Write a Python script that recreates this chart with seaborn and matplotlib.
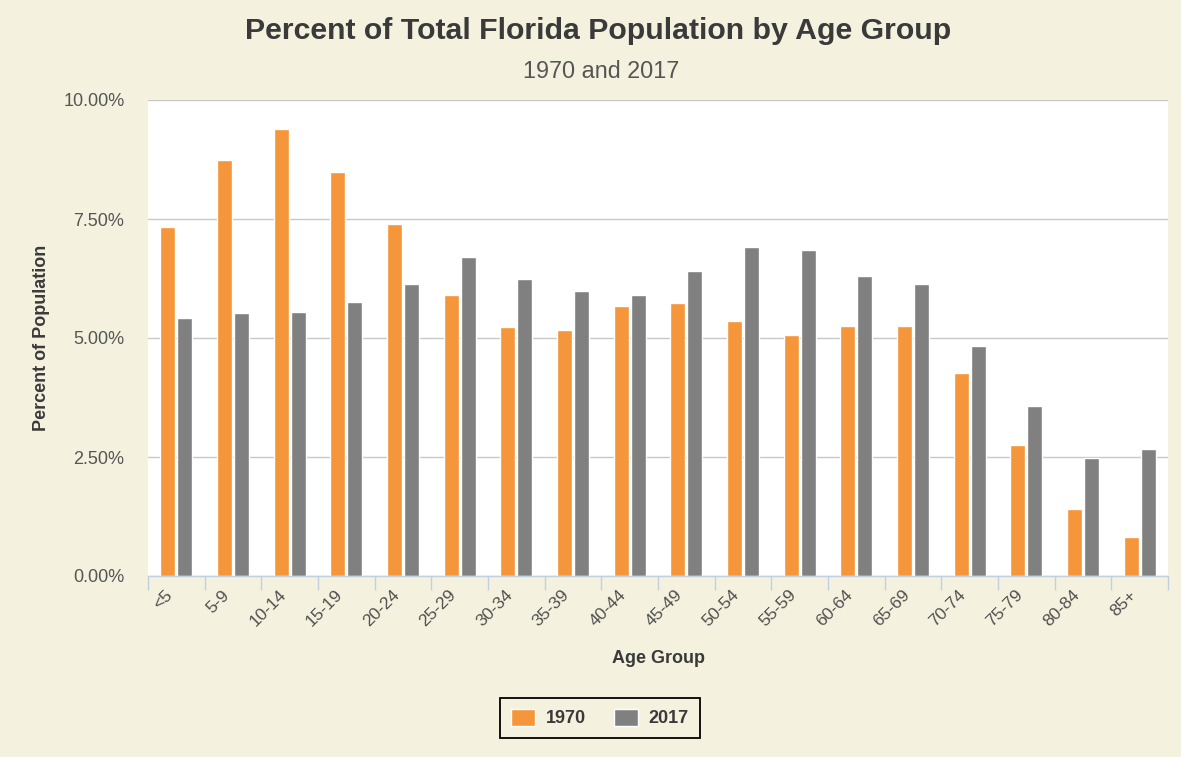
import numpy as np
import pandas as pd
import matplotlib.pyplot as plt
import matplotlib.transforms as mtransforms
import seaborn as sns

# Data (percent of total population)
age_groups = ["<5", "5-9", "10-14", "15-19", "20-24", "25-29", "30-34", "35-39", "40-44",
              "45-49", "50-54", "55-59", "60-64", "65-69", "70-74", "75-79", "80-84", "85+"]
pct_1970 = [7.33, 8.75, 9.40, 8.49, 7.40, 5.91, 5.23, 5.17, 5.68,
            5.74, 5.36, 5.07, 5.26, 5.26, 4.27, 2.76, 1.40, 0.82]
pct_2017 = [5.42, 5.52, 5.55, 5.76, 6.14, 6.71, 6.23, 5.98, 5.90,
            6.40, 6.92, 6.85, 6.30, 6.14, 4.84, 3.57, 2.47, 2.66]
years = ["1970", "2017"]
y_ticks = [0, 2.5, 5, 7.5, 10]

BG = "#F4F2DE"
ORANGE = "#F5963A"
GRAY = "#808080"
TEXT = "#3A3A3A"

sns.set_theme(style="white")
plt.rcParams["font.family"] = ["Liberation Sans", "DejaVu Sans"]

df = pd.DataFrame({"Age Group": age_groups, "1970": pct_1970, "2017": pct_2017})
df = df.melt(id_vars="Age Group", value_vars=years, var_name="Year", value_name="Percent")

fig = plt.figure(figsize=(11.81, 7.57), dpi=100)
fig.patch.set_facecolor(BG)
ax = fig.add_axes([148 / 1181, 1 - 576 / 757, 1020 / 1181, 476 / 757])
ax.set_facecolor("white")

sns.barplot(data=df, x="Age Group", y="Percent", hue="Year", order=age_groups,
            hue_order=years, palette=[ORANGE, GRAY], saturation=1,
            width=0.6, gap=0.1, ax=ax)

handles, labels = ax.get_legend_handles_labels()
ax.get_legend().remove()

ax.set_xlim(-0.5, len(age_groups) - 0.5)
ax.set_ylim(0, 10)
ax.set_yticks(y_ticks)
ax.set_yticklabels([f"{v:.2f}%" for v in y_ticks], fontsize=13, color="#555555")
ax.yaxis.grid(True, color="#C8C8C8", linewidth=1)
ax.set_axisbelow(True)

# category labels at centres, tick marks at the boundaries
ax.set_xticks(range(len(age_groups)))
ax.set_xticklabels(age_groups, rotation=45, ha="right", va="center", rotation_mode="anchor",
                   fontsize=12.5, color="#505050")
ax.set_xticks(np.arange(-0.5, len(age_groups), 1), minor=True)
ax.tick_params(axis="x", which="major", length=0, pad=12)
ax.tick_params(axis="x", which="minor", length=10, width=1, color="#C0D0E0", bottom=True)
ax.tick_params(axis="y", length=0, pad=17)
shift = mtransforms.ScaledTranslation(-6 / 100, 0, fig.dpi_scale_trans)
for lbl in ax.get_xticklabels():
    lbl.set_transform(lbl.get_transform() + shift)

for side in ["top", "right", "left"]:
    ax.spines[side].set_visible(False)
ax.spines["bottom"].set_color("#C0D0E0")
ax.spines["bottom"].set_linewidth(1)

ax.set_xlabel("Age Group", fontsize=13, fontweight="bold", color=TEXT)
ax.set_ylabel("Percent of Population", fontsize=13, fontweight="bold", color=TEXT)
ax.xaxis.set_label_coords(658 / 1181, 1 - 650 / 757, transform=fig.transFigure)
ax.yaxis.set_label_coords(50 / 1181, 1 - 338 / 757, transform=fig.transFigure)

fig.text(598 / 1181, 1 - 31 / 757, "Percent of Total Florida Population by Age Group",
         ha="center", va="center", fontsize=21.8, fontweight="bold", color=TEXT)
fig.text(601 / 1181, 1 - 71 / 757, "1970 and 2017",
         ha="center", va="center", fontsize=16.8, color="#555555")

leg = fig.legend(handles, labels, loc="center", bbox_to_anchor=(600 / 1181, 1 - 718 / 757),
                 ncol=2, frameon=True, fancybox=False, edgecolor="black", facecolor=BG,
                 framealpha=1, handlelength=1.3, handleheight=1.1, handletextpad=0.6,
                 columnspacing=1.6, borderpad=0.6, prop={"weight": "bold", "size": 13})
leg.get_frame().set_linewidth(1.3)
for t in leg.get_texts():
    t.set_color(TEXT)

fig.savefig("out.png", dpi=100, facecolor=BG)
